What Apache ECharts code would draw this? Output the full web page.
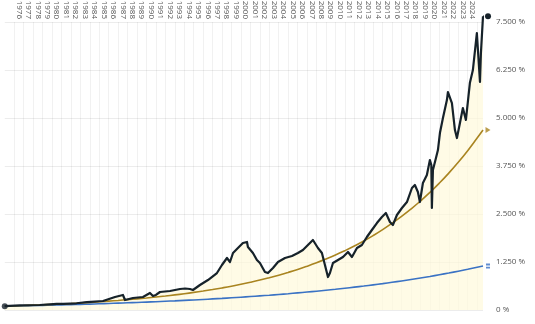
<!DOCTYPE html>
<html>
<head>
<meta charset="utf-8">
<script src="https://cdn.jsdelivr.net/npm/echarts@6/dist/echarts.min.js"></script>
<style>
  html, body { margin: 0; padding: 0; background: #fff; }
  #chart { width: 535px; height: 324px; }
</style>
</head>
<body>
<div id="chart"></div>
<script>
// Index level (start = 100) sampled at decimal years
const indexDates = [1975.0, 1976.6, 1978.7, 1980.5, 1981.2, 1982.6, 1983.7, 1985.4, 1986.67, 1987.51,
  1987.73, 1988.57, 1989.63, 1990.0, 1990.37, 1990.69, 1991.0, 1991.43, 1992.49, 1993.55,
  1994.1, 1994.6, 1994.92, 1995.66, 1996.51, 1997.46, 1997.99, 1998.52, 1998.84, 1999.16,
  1999.68, 2000.21, 2000.64, 2000.74, 2001.27, 2001.69, 2002.01, 2002.54, 2002.86, 2003.39,
  2003.92, 2004.66, 2005.40, 2006.03, 2006.56, 2007.09, 2007.62, 2007.83, 2008.15, 2008.57,
  2008.89, 2009.21, 2009.42, 2009.74, 2010.27, 2010.80, 2011.33, 2011.75, 2012.28, 2012.80,
  2013.33, 2013.86, 2014.39, 2014.92, 2015.34, 2015.55, 2015.77, 2016.08, 2016.51, 2017.04,
  2017.57, 2018.10, 2018.41, 2018.73, 2018.94, 2019.26, 2019.68, 2020.00, 2020.15, 2020.21,
  2020.32, 2020.64, 2020.85, 2021.06, 2021.38, 2021.80, 2021.91, 2022.33, 2022.65, 2022.86,
  2023.18, 2023.49, 2023.81, 2024.23, 2024.55, 2024.97, 2025.08, 2025.30, 2025.40, 2025.62];
const indexValues = [100, 120, 130, 160, 160, 175, 205, 234, 339, 391,
  260, 312, 339, 390, 443, 365, 391, 469, 495, 547,
  560, 547, 521, 651, 781, 963, 1172, 1354, 1250, 1484,
  1614, 1745, 1771, 1640, 1484, 1302, 1224, 990, 963, 1094,
  1250, 1354, 1406, 1484, 1562, 1693, 1823, 1771, 1614, 1484,
  1172, 859, 963, 1224, 1302, 1380, 1510, 1380, 1614, 1693,
  1901, 2083, 2265, 2422, 2526, 2474, 2292, 2213, 2474, 2656,
  2812, 3177, 3255, 3073, 2812, 3307, 3515, 3906, 3776, 2656,
  3646, 3958, 4166, 4609, 5000, 5468, 5677, 5390, 4687, 4479,
  4869, 5260, 4948, 5911, 6250, 7213, 7239, 5937, 6692, 7650];

// Reference growth paths, yearly
const pathYears = [1975, 1976, 1977, 1978, 1979, 1980, 1981, 1982, 1983, 1984,
  1985, 1986, 1987, 1988, 1989, 1990, 1991, 1992, 1993, 1994,
  1995, 1996, 1997, 1998, 1999, 2000, 2001, 2002, 2003, 2004,
  2005, 2006, 2007, 2008, 2009, 2010, 2011, 2012, 2013, 2014,
  2015, 2016, 2017, 2018, 2019, 2020, 2021, 2022, 2023, 2024,
  2025, 2025.62];
const highPath = [100, 108, 116, 126, 136, 146, 158, 170, 184, 198,
  214, 231, 249, 269, 290, 313, 338, 364, 393, 424,
  458, 494, 533, 575, 620, 669, 722, 779, 841, 907,
  979, 1056, 1140, 1230, 1327, 1431, 1545, 1667, 1798, 1940,
  2093, 2259, 2437, 2630, 2838, 3062, 3304, 3565, 3846, 4150,
  4478, 4687];
const lowPath = [100, 105, 110, 116, 121, 127, 134, 140, 147, 154,
  162, 170, 178, 187, 196, 206, 216, 227, 238, 250,
  262, 275, 289, 303, 318, 334, 350, 367, 385, 405,
  424, 445, 467, 490, 515, 540, 567, 595, 624, 655,
  687, 721, 757, 794, 833, 874, 918, 963, 1010, 1060,
  1113, 1145];

// Y axis ticks (percent)
const yTicks = [0, 1250, 2500, 3750, 5000, 6250, 7500];

const X_MIN = 1975, X_MAX = 2025.62, END_MARK_X = 2026.15;
const FIRST_LABEL_YEAR = 1976, LAST_LABEL_YEAR = 2024;

const INK = '#16222a', GOLD = '#a98420', BLUE = '#3a72c4', FILL = '#fffadc';

function pct(v) {
  const s = String(Math.round(v)).replace(/\B(?=(\d{3})+(?!\d))/g, '.');
  return s + ' %';
}

const zip = (xs, ys) => xs.map((x, i) => [x, ys[i]]);
const last = a => a[a.length - 1];

const chart = echarts.init(document.getElementById('chart'), null, { renderer: 'canvas' });
chart.setOption({
  animation: false,
  backgroundColor: '#fff',
  textStyle: { fontFamily: 'Open Sans' },
  grid: { left: 4.75, right: 52, top: 22, bottom: 14, containLabel: false, outerBoundsMode: 'none' },
  xAxis: [{
    type: 'value', min: X_MIN, max: X_MAX, interval: 1, position: 'bottom',
    axisLine: { show: false }, axisTick: { show: false }, axisLabel: { show: false },
    splitLine: { show: true, showMinLine: false, showMaxLine: false,
      lineStyle: { color: 'rgba(0,0,0,0.055)', width: 1 } }
  }, {
    type: 'value', min: X_MIN, max: X_MAX, interval: 0.5, position: 'top',
    axisLine: { show: false }, axisTick: { show: false }, splitLine: { show: false },
    axisLabel: {
      rotate: 90, margin: 3, fontSize: 8, color: '#555', fontFamily: 'Open Sans',
      formatter: v => {
        const y = Math.floor(v + 1e-9);
        const mid = Math.abs(v - y - 0.5) < 1e-6;
        return (mid && y >= FIRST_LABEL_YEAR && y <= LAST_LABEL_YEAR) ? String(y) : '';
      }
    }
  }],
  yAxis: {
    type: 'value', position: 'right', min: yTicks[0], max: last(yTicks), interval: yTicks[1] - yTicks[0],
    axisLine: { show: false }, axisTick: { show: false },
    axisLabel: { margin: 13, align: 'left', fontSize: 8, color: '#555', fontFamily: 'Open Sans', formatter: pct },
    splitLine: { lineStyle: { color: '#ececec', width: 1 } }
  },
  series: [{
    name: 'area', type: 'line', data: zip(indexDates, indexValues), showSymbol: false,
    lineStyle: { width: 0 }, areaStyle: { color: FILL, origin: 'start' }, z: 1, clip: false
  }, {
    name: 'low', type: 'line', data: zip(pathYears, lowPath), showSymbol: false, smooth: true,
    lineStyle: { color: BLUE, width: 1.6 }, z: 3, clip: false
  }, {
    name: 'high', type: 'line', data: zip(pathYears, highPath), showSymbol: false, smooth: true,
    lineStyle: { color: GOLD, width: 1.6 }, z: 4, clip: false
  }, {
    name: 'index', type: 'line', data: zip(indexDates, indexValues), showSymbol: false,
    lineStyle: { color: INK, width: 2.2, join: 'round' }, z: 5, clip: false
  }, {
    name: 'indexEnd', type: 'line', clip: false, z: 6,
    data: [
      { value: [last(indexDates), last(indexValues)], symbol: 'none' },
      { value: [END_MARK_X, last(indexValues)], symbol: 'circle', symbolSize: 6 }
    ],
    showSymbol: true, lineStyle: { color: INK, width: 1.5 }, itemStyle: { color: INK }
  }, {
    name: 'markers', type: 'scatter', clip: false, z: 6,
    data: [
      { value: [indexDates[0], indexValues[0]], symbol: 'circle', symbolSize: 6, itemStyle: { color: INK } },
      { value: [END_MARK_X, last(highPath)], symbol: 'triangle', symbolSize: [6, 5], symbolRotate: -90, itemStyle: { color: GOLD } },
      { value: [END_MARK_X, last(lowPath)], symbol: 'path://M0,0H8V3H0Z M0,5H8V8H0Z', symbolSize: [4, 5], itemStyle: { color: BLUE } }
    ]
  }]
});
</script>
</body>
</html>
